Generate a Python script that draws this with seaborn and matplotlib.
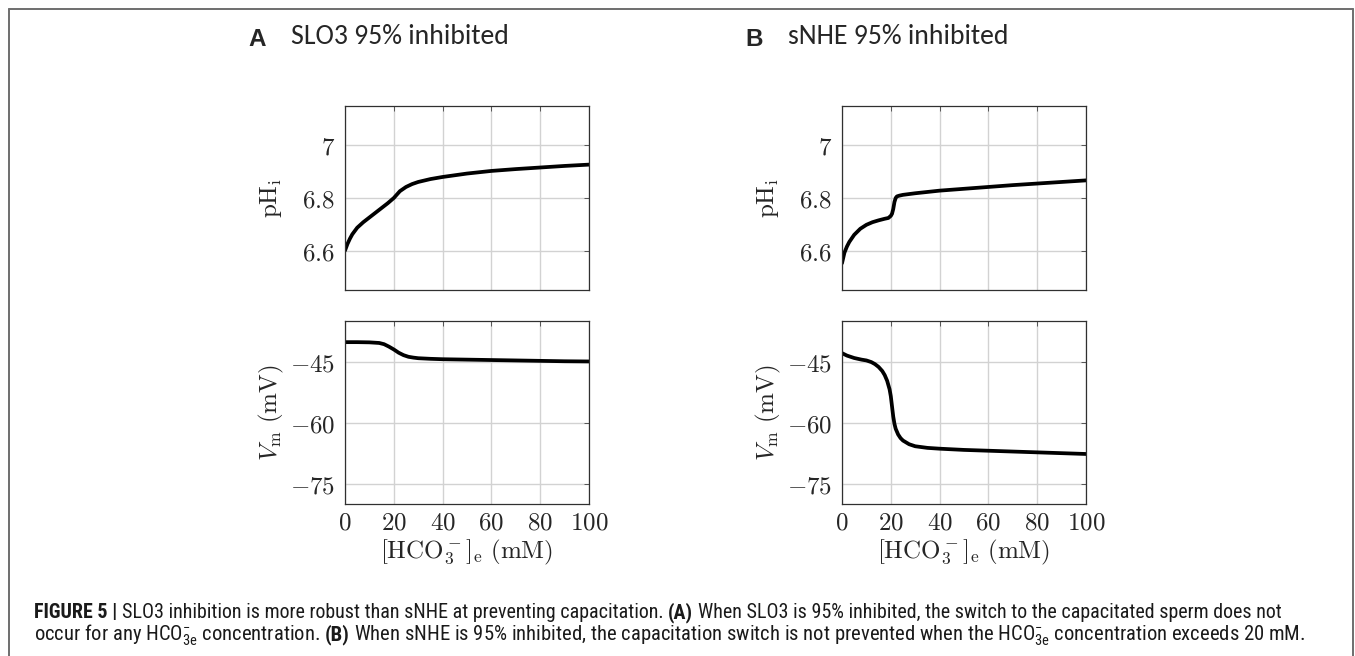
import numpy as np
import pandas as pd
import matplotlib
matplotlib.use("Agg")
import matplotlib.pyplot as plt
import matplotlib.font_manager as fm
from matplotlib.lines import Line2D
from matplotlib.ticker import FixedLocator, FixedFormatter
import seaborn as sns

# ---------------- data ----------------
hco3_ph_a = [0, 1, 2, 3, 5, 7.5, 10, 12.5, 15, 17.5, 20, 22.5, 25, 27.5, 30, 35, 40,
             50, 60, 70, 80, 90, 100]
ph_a = [6.600, 6.625, 6.645, 6.662, 6.687, 6.708, 6.726, 6.744, 6.762, 6.780, 6.800,
        6.826, 6.842, 6.853, 6.861, 6.872, 6.880, 6.893, 6.903, 6.910, 6.916, 6.922, 6.927]

hco3_ph_b = [0, 1, 2, 3, 5, 7.5, 10, 12.5, 15, 17.5, 19, 20, 20.5, 21, 21.5, 22, 22.5,
             23.5, 25, 30, 40, 50, 60, 70, 80, 90, 100]
ph_b = [6.552, 6.592, 6.615, 6.633, 6.660, 6.683, 6.698, 6.708, 6.715, 6.721, 6.724,
        6.732, 6.740, 6.758, 6.785, 6.800, 6.806, 6.809, 6.812, 6.818, 6.828, 6.835,
        6.842, 6.849, 6.855, 6.861, 6.867]

hco3_vm_a = [0, 5, 10, 14, 16, 18, 20, 22, 24, 26, 28, 30, 35, 40, 50, 60, 70, 80, 90, 100]
vm_a = [-40.2, -40.2, -40.25, -40.4, -40.7, -41.3, -42.0, -42.8, -43.4, -43.8, -44.0,
        -44.15, -44.3, -44.4, -44.5, -44.6, -44.7, -44.8, -44.9, -44.95]

hco3_vm_b = [0, 2, 5, 8, 10, 12, 13.5, 15, 16.5, 17.5, 18.5, 19.5, 20, 20.5, 21, 21.5,
             22, 23, 24, 25, 27.5, 30, 35, 40, 50, 60, 70, 80, 90, 100]
vm_b = [-42.9, -43.5, -44.1, -44.5, -44.7, -45.1, -45.6, -46.3, -47.3, -48.3, -49.7,
        -51.8, -53.5, -56.0, -58.5, -60.3, -61.5, -62.9, -63.8, -64.4, -65.3, -65.8,
        -66.2, -66.4, -66.7, -66.9, -67.1, -67.3, -67.5, -67.7]

x_ticks = [0, 20, 40, 60, 80, 100]
x_tick_labels = ["0", "20", "40", "60", "80", "100"]
ph_ticks = [6.6, 6.8, 7.0]
ph_tick_labels = ["6.6", "6.8", "7"]
vm_ticks = [-75, -60, -45]
vm_tick_labels = [r"$-75$", r"$-60$", r"$-45$"]

panel_letters = ["A", "B"]
panel_titles = ["SLO3 95% inhibited", "sNHE 95% inhibited"]

caption_line1 = [("FIGURE 5 |", True), (" ", False),
                 ("SLO3 inhibition is more robust than sNHE at preventing capacitation.", False),
                 (" ", False), ("(A)", True), (" ", False),
                 ("When SLO3 is 95% inhibited, the switch to the capacitated sperm does not", False)]
caption_line2 = [("occur for any HCO$_{3\\mathrm{e}}^{-}$ concentration.", False), (" ", False),
                 ("(B)", True), (" ", False),
                 ("When sNHE is 95% inhibited, the capacitation switch is not prevented when the "
                  "HCO$_{3\\mathrm{e}}^{-}$ concentration exceeds 20 mM.", False)]

# ---------------- style ----------------
sns.set_theme(style="white")
ttf = fm.fontManager.ttflist
names = {f.name for f in ttf}

# pick a narrow / condensed sans for the caption if one is installed
cap_family, cap_stretch = "Liberation Sans", "normal"
if "Liberation Sans Narrow" in names:
    cap_family, cap_stretch = "Liberation Sans Narrow", "normal"
else:
    for fam in ["Roboto Condensed", "Open Sans Condensed", "Noto Sans Condensed"]:
        if fam in names:
            cap_family, cap_stretch = fam, "normal"
            break
    else:
        for fam in ["Noto Sans", "DejaVu Sans", "Open Sans", "Roboto"]:
            hits = [f for f in ttf if f.name == fam and f.stretch in ("condensed", "semi-condensed", 87, 75)]
            if hits:
                cap_family, cap_stretch = fam, "condensed"
                break

title_family = "Carlito" if "Carlito" in names else "Lato"
plt.rcParams["font.family"] = ["DejaVu Sans"]
plt.rcParams["mathtext.fontset"] = "cm"
plt.rcParams["mathtext.rm"] = cap_family
plt.rcParams["mathtext.it"] = cap_family + ":italic"
plt.rcParams["mathtext.bf"] = cap_family + ":bold"

W, H = 1355, 656
fig = plt.figure(figsize=(W / 100, H / 100), dpi=100)
fig.patch.set_facecolor("white")


def fbox(l, t, r, b):
    return [l / W, 1 - b / H, (r - l) / W, (b - t) / H]


lefts = [345, 842]
ax_w = 244
datasets = [((hco3_ph_a, ph_a), (hco3_vm_a, vm_a)), ((hco3_ph_b, ph_b), (hco3_vm_b, vm_b))]

for i, left in enumerate(lefts):
    ax_top = fig.add_axes(fbox(left, 106, left + ax_w, 290))
    ax_bot = fig.add_axes(fbox(left, 321, left + ax_w, 504))
    (xp, yp), (xv, yv) = datasets[i]
    sns.lineplot(x=xp, y=yp, ax=ax_top, color="black", linewidth=2.7, sort=False)
    sns.lineplot(x=xv, y=yv, ax=ax_bot, color="black", linewidth=2.7, sort=False)

    ax_top.set_ylim(6.45, 7.15)
    ax_bot.set_ylim(-80, -35)
    for ax in (ax_top, ax_bot):
        ax.set_xlim(0, 100)
        ax.xaxis.set_major_locator(FixedLocator(x_ticks))
        ax.grid(True, color="#d2d2d2", linewidth=1.0)
        ax.set_axisbelow(True)
        for sp in ax.spines.values():
            sp.set_color("#303030")
            sp.set_linewidth(0.9)
        ax.tick_params(direction="in", length=3.5, width=0.7, color="#555555",
                       top=True, right=True, labelsize=18)
        for lab in ax.get_xticklabels() + ax.get_yticklabels():
            lab.set_math_fontfamily("cm")
    ax_top.yaxis.set_major_locator(FixedLocator(ph_ticks))
    ax_top.yaxis.set_major_formatter(FixedFormatter([f"${t}$" for t in ph_tick_labels]))
    ax_top.set_xticklabels([])
    ax_bot.yaxis.set_major_locator(FixedLocator(vm_ticks))
    ax_bot.yaxis.set_major_formatter(FixedFormatter(vm_tick_labels))
    ax_bot.xaxis.set_major_formatter(FixedFormatter([f"${t}$" for t in x_tick_labels]))
    ax_top.tick_params(axis="y", pad=7)
    ax_bot.tick_params(axis="y", pad=7)
    ax_bot.tick_params(axis="x", pad=5)

    ax_top.set_ylabel(r"$\mathrm{pH_i}$", fontsize=18, math_fontfamily="cm")
    ax_bot.set_ylabel(r"$V_\mathrm{m}\ (\mathrm{mV})$", fontsize=18, math_fontfamily="cm")
    ax_bot.set_xlabel(r"$[\mathrm{HCO_3^-}]_\mathrm{e}\ (\mathrm{mM})$", fontsize=18,
                      math_fontfamily="cm")
    for ax in (ax_top, ax_bot):
        ax.yaxis.label.set_va("center")
        ax.yaxis.set_label_coords(-74 / ax_w, 0.5)
    ax_bot.xaxis.label.set_va("center")
    ax_bot.xaxis.set_label_coords(0.5, -48 / 183)

    # panel letter and title
    fig.text((left - 88) / W, 1 - 40 / H, panel_letters[i], fontsize=17.5, fontweight="bold",
             family="Liberation Sans", ha="center", va="center")
    fig.text((left - 54) / W, 1 - 37 / H, panel_titles[i], fontsize=20,
             family=title_family, ha="left", va="center")

# ---------------- frame ----------------
fcol = "#6e6e6e"
fig.add_artist(Line2D([9 / W, 9 / W], [0, 1 - 9 / H], transform=fig.transFigure,
                      color=fcol, linewidth=1.4))
fig.add_artist(Line2D([9 / W, 1353 / W], [1 - 9 / H, 1 - 9 / H], transform=fig.transFigure,
                      color=fcol, linewidth=1.4))
fig.add_artist(Line2D([1353 / W, 1353 / W], [0, 1 - 9 / H], transform=fig.transFigure,
                      color=fcol, linewidth=1.4))

# ---------------- caption (runs of regular / bold text) ----------------
renderer = fig.canvas.get_renderer()


def make_text(x, y, s, size, bold):
    return fig.text(x, y, s, fontsize=size, fontweight="bold" if bold else "normal",
                    family=cap_family, stretch=cap_stretch, math_fontfamily="custom",
                    ha="left", va="baseline", color="#1a1a1a")


def text_width(s, size, bold):
    t = make_text(0, 0, s, size, bold)
    w = t.get_window_extent(renderer).width
    t.remove()
    return w


def space_width(size):
    return text_width("a a", size, False) - text_width("aa", size, False)


def run_width(runs, size):
    sp = space_width(size)
    return sum(sp if s == " " else text_width(s, size, b) for s, b in runs)


def draw_runs(runs, x0, y_base, size):
    sp = space_width(size)
    x = x0
    for s, b in runs:
        if s == " ":
            x += sp
            continue
        t = make_text(x / W, 1 - y_base / H, s, size, b)
        x += t.get_window_extent(renderer).width


x_start = 34
size1 = 11 * (1280 - x_start) / run_width(caption_line1, 11)
size2 = 11 * (1308 - x_start) / run_width(caption_line2, 11)
draw_runs(caption_line1, x_start, 618, size1)
draw_runs(caption_line2, x_start, 640, size2)

fig.savefig("out.png", dpi=100, facecolor="white")
